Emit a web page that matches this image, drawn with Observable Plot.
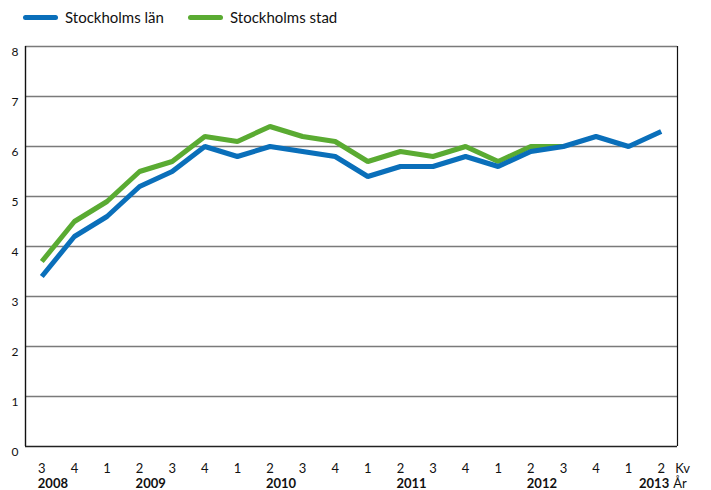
<!DOCTYPE html>
<html>
<head>
<meta charset="utf-8">
<script src="https://cdn.jsdelivr.net/npm/d3@7"></script>
<script src="https://cdn.jsdelivr.net/npm/@observablehq/plot@0.6"></script>
<style>
  body { margin: 0; background: #fff; font-family: Lato, "Open Sans", sans-serif; }
  #legend { height: 36px; position: relative; font-size: 15px; color: #111; }
  .item { position: absolute; top: 8px; display: flex; align-items: center; }
  .sw { width: 35px; height: 5px; border-radius: 3px; margin-right: 7px; }
</style>
</head>
<body>
<div id="legend"></div>
<div id="chart"></div>
<script>
const quarterLabels = ["3","4","1","2","3","4","1","2","3","4","1","2","3","4","1","2","3","4","1","2"];
const quarterYears  = [2008,2008,2009,2009,2009,2009,2010,2010,2010,2010,2011,2011,2011,2011,2012,2012,2012,2012,2013,2013];
const seriesNames = ["Stockholms län", "Stockholms stad"];
const lan  = [3.4,4.2,4.6,5.2,5.5,6.0,5.8,6.0,5.9,5.8,5.4,5.6,5.6,5.8,5.6,5.9,6.0,6.2,6.0,6.3];
const stad = [3.7,4.5,4.9,5.5,5.7,6.2,6.1,6.4,6.2,6.1,5.7,5.9,5.8,6.0,5.7,6.0,6.0];
const yTicks = [0,1,2,3,4,5,6,7,8];
const colors = ["#0a6fba", "#5aab32"];

// legend
const legend = document.getElementById("legend");
[[23, 0], [188, 1]].forEach(([left, i]) => {
  const d = document.createElement("div");
  d.className = "item";
  d.style.left = left + "px";
  d.innerHTML = `<span class="sw" style="background:${colors[i]}"></span><span>${seriesNames[i]}</span>`;
  legend.appendChild(d);
});

const n = quarterLabels.length;
const lanData = lan.map((v, i) => ({i, v}));
const stadData = stad.map((v, i) => ({i, v}));
const qData = quarterLabels.map((q, i) => ({i, q}));

// year labels anchored at first shown quarter of 2008, and Q2 of each later year
const yearData = [];
const seen = new Set();
quarterYears.forEach((y, i) => {
  if (seen.has(y)) return;
  seen.add(y);
  let idx = y === quarterYears[0] ? i : quarterYears.findIndex((yy, j) => yy === y && quarterLabels[j] === "2");
  yearData.push({i: idx, y: String(y), last: y === quarterYears[n - 1]});
});

const chart = Plot.plot({
  width: 711,
  height: 454,
  marginLeft: 25,
  marginRight: 34,
  marginTop: 10,
  marginBottom: 44,
  style: {fontFamily: "Lato, 'Open Sans', sans-serif", fontSize: "12px", color: "#111", overflow: "visible"},
  x: {domain: [-0.5, n - 0.5], axis: null},
  y: {domain: [0, 8], axis: null},
  marks: [
    Plot.ruleY(yTicks.filter(d => d > 0), {stroke: "#7a7a7a", strokeWidth: 1.6}),
    Plot.ruleY([0], {stroke: "#222", strokeWidth: 1.4}),
    Plot.ruleX([-0.5], {stroke: "#111", strokeWidth: 1.4}),
    Plot.ruleX([n - 0.5], {stroke: "#111", strokeWidth: 1.2}),
    Plot.text(yTicks, {x: () => -0.5, y: d => d, text: d => String(d), textAnchor: "end", dx: -7, dy: 6, fontSize: 12, fill: "#111"}),
    Plot.text(qData, {x: "i", y: () => 0, text: "q", dy: 22, fontSize: 13, fill: "#111"}),
    Plot.text(["Kv"], {x: () => n - 1, y: () => 0, text: d => d, dy: 22, dx: 14, textAnchor: "start", fontSize: 13, fill: "#111"}),
    Plot.text(yearData.filter(d => !d.last), {x: "i", y: () => 0, text: "y", dy: 37, dx: -4, textAnchor: "start", fontSize: 13, fontWeight: "bold", fill: "#111"}),
    Plot.text(yearData.filter(d => d.last), {x: "i", y: () => 0, text: "y", dy: 37, dx: 8, textAnchor: "end", fontSize: 13, fontWeight: "bold", fill: "#111"}),
    Plot.text(["År"], {x: () => n - 1, y: () => 0, text: d => d, dy: 37, dx: 12, textAnchor: "start", fontSize: 13, fill: "#111"}),
    Plot.line(stadData, {x: "i", y: "v", stroke: colors[1], strokeWidth: 5, strokeLinejoin: "miter", strokeLinecap: "butt"}),
    Plot.line(lanData, {x: "i", y: "v", stroke: colors[0], strokeWidth: 5, strokeLinejoin: "miter", strokeLinecap: "butt"})
  ]
});
document.getElementById("chart").appendChild(chart);
</script>
</body>
</html>
